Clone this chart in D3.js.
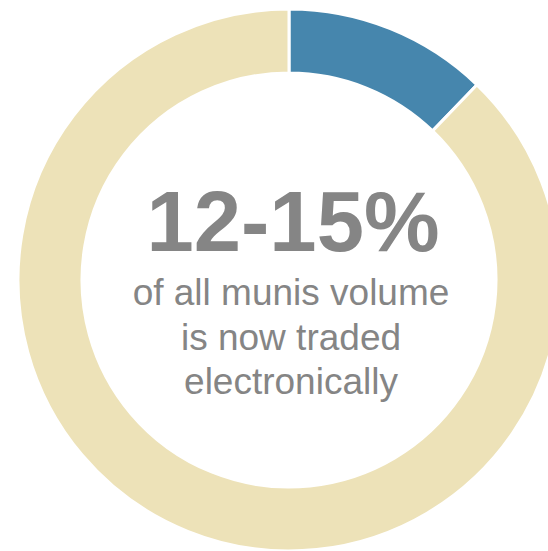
<!DOCTYPE html>
<html>
<head>
<meta charset="utf-8">
<script src="https://cdn.jsdelivr.net/npm/d3@7"></script>
<style>
  html, body { margin: 0; padding: 0; background: #fff; overflow: hidden; }
  svg { display: block; }
</style>
</head>
<body>
<script>
// Share of municipal bond volume traded electronically vs. everything else
const segments = ["Electronic", "Other"];
const shares = [12.2, 87.8];
const colors = ["#4686ad", "#ede2b8"];

const headline = "12-15%";
const caption = ["of all munis volume", "is now traded", "electronically"];

const width = 548, height = 551;
const cx = 289, cy = 280;
const outerR = 271, innerR = 207;

const svg = d3.select("body").append("svg")
  .attr("width", width)
  .attr("height", height);

const pie = d3.pie().sort(null).value(d => d.value);
const arc = d3.arc().innerRadius(innerR).outerRadius(outerR);

const data = segments.map((s, i) => ({ name: s, value: shares[i] }));
const color = d3.scaleOrdinal().domain(segments).range(colors);

const g = svg.append("g").attr("transform", `translate(${cx},${cy})`);

g.selectAll("path")
  .data(pie(data))
  .join("path")
  .attr("d", arc)
  .attr("fill", d => color(d.data.name))
  .attr("stroke", "#fff")
  .attr("stroke-width", 3);

g.append("text")
  .attr("x", 4)
  .attr("y", -29)
  .attr("text-anchor", "middle")
  .attr("font-family", "Liberation Sans, Arial, sans-serif")
  .attr("font-weight", "bold")
  .attr("font-size", 85)
  .attr("fill", "#858585")
  .text(headline);

g.selectAll("text.caption")
  .data(caption)
  .join("text")
  .attr("class", "caption")
  .attr("x", 2)
  .attr("y", (d, i) => 25 + i * 44.7)
  .attr("text-anchor", "middle")
  .attr("font-family", "Liberation Sans, Arial, sans-serif")
  .attr("font-size", 37)
  .attr("fill", "#858585")
  .text(d => d);
</script>
</body>
</html>
